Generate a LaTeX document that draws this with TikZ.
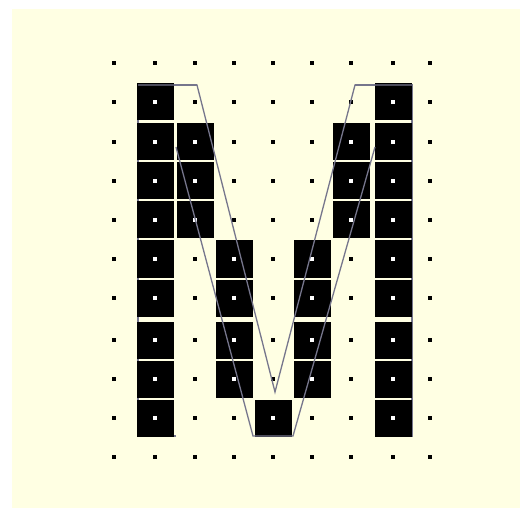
\documentclass[tikz,border=0pt]{standalone}
\definecolor{bgyellow}{RGB}{255,255,227}
\definecolor{outlinegrey}{RGB}{118,118,140}
\begin{document}
\begin{tikzpicture}[x=1pt,y=-1pt,
  cellbox/.style={fill=black},
  griddot/.style={fill=black},
  celldot/.style={fill=white},
  glyphoutline/.style={draw=outlinegrey,line width=1.3pt,line join=miter}]
\useasboundingbox (0,0) rectangle (520,508);
\fill[bgyellow] (12,9) rectangle (520,508);
\def\xs{{114,155,195,234,273,312,351,393,430}}
\def\ys{{63,102,142,181,220,259,298,340,379,418,457}}
% outer outline of the glyph (mostly hidden by the cells)
\draw[glyphoutline] (138,436) -- (138,85) -- (197,85);
\draw[glyphoutline] (355,85) -- (412,85) -- (412,436) -- (375,436);
\draw[glyphoutline] (176,436) -- (138,436);
% grid dots
\foreach \c in {0,...,8}{
  \foreach \r in {0,...,10}{
    \pgfmathsetmacro\cx{\xs[\c]}
    \pgfmathsetmacro\cy{\ys[\r]}
    \fill[griddot] (\cx-2,\cy-2) rectangle (\cx+2,\cy+2);
  }
}
% black cells
\foreach \c/\r in {1/1,1/2,1/3,1/4,1/5,1/6,1/7,1/8,1/9,
                   2/2,2/3,2/4,
                   3/5,3/6,3/7,3/8,
                   4/9,
                   5/5,5/6,5/7,5/8,
                   6/2,6/3,6/4,
                   7/1,7/2,7/3,7/4,7/5,7/6,7/7,7/8,7/9}{
  \pgfmathsetmacro\cx{\xs[\c]}
  \pgfmathsetmacro\cy{\ys[\r]}
  \fill[cellbox] (\cx-18.5,\cy-18.5) rectangle (\cx+18.5,\cy+18.5);
  \fill[celldot] (\cx-2,\cy-2) rectangle (\cx+2,\cy+2);
}
% visible parts of the outline over the cells
\draw[glyphoutline] (138,85) -- (197,85) -- (275,392) -- (355,85) -- (412,85);
\draw[glyphoutline] (375,147) -- (293,436) -- (253,436) -- (176,147);
\end{tikzpicture}
\end{document}
